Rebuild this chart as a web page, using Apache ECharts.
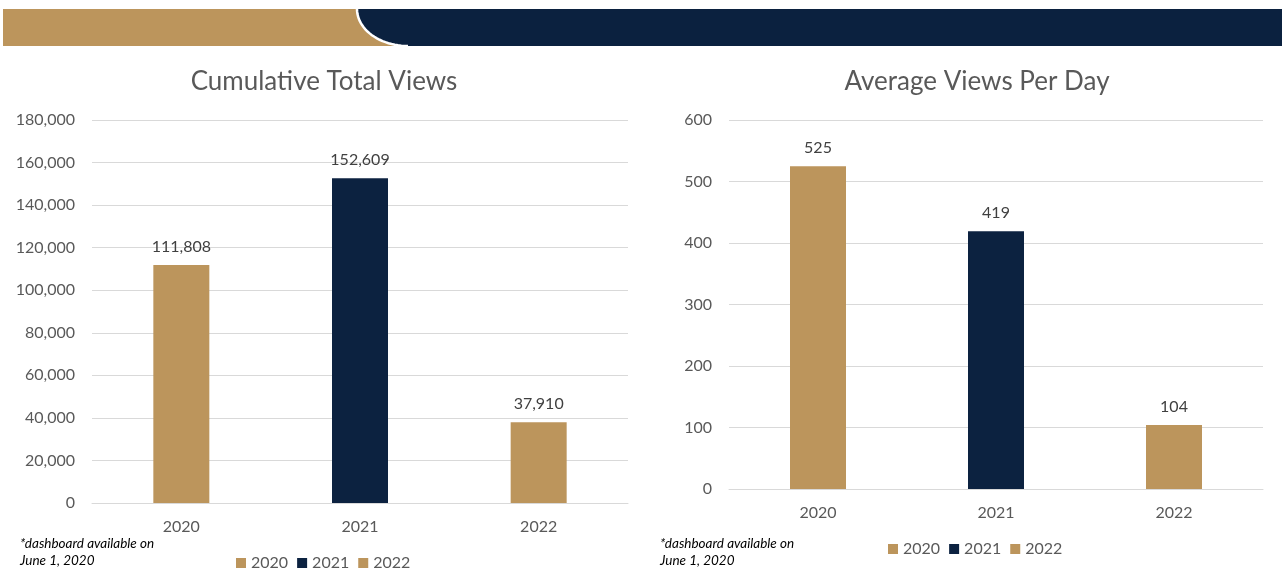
<!DOCTYPE html>
<html>
<head>
<meta charset="utf-8">
<script src="https://cdn.jsdelivr.net/npm/echarts@6/dist/echarts.min.js"></script>
<style>
  html, body { margin: 0; padding: 0; background: #ffffff; }
  #chart { width: 1284px; height: 574px; }
</style>
</head>
<body>
<div id="chart"></div>
<script>
// Years shown on both panels
const years = ['2020', '2021', '2022'];
// Cumulative total views per year
const totalViews = [111808, 152609, 37910];
// Average views per day per year
const avgViewsPerDay = [525, 419, 104];
// Colour per year
const yearColors = ['#BC955C', '#0C2240', '#BC955C'];
// Axis settings
const totalAxis = { min: 0, max: 180000, interval: 20000 };
const avgAxis = { min: 0, max: 600, interval: 100 };

const FONT = 'Lato, "Open Sans", sans-serif';
const GREY = '#595959';

const fmt = v => Number(v).toLocaleString('en-US');

// One series per year so each bar gets its own legend entry
function yearSeries(values, axisIndex, stackName) {
  return years.map((y, i) => ({
    name: y,
    type: 'bar',
    xAxisIndex: axisIndex,
    yAxisIndex: axisIndex,
    stack: stackName,
    barWidth: 56,
    itemStyle: { color: yearColors[i] },
    label: {
      show: true,
      position: 'top',
      distance: 10,
      color: '#404040',
      fontFamily: FONT,
      fontSize: 16,
      formatter: p => fmt(p.value)
    },
    data: years.map((_, j) => (j === i ? values[i] : '-'))
  }));
}

function xAxisCfg(gridIndex) {
  return {
    type: 'category',
    gridIndex,
    data: years,
    axisLine: { lineStyle: { color: '#d9d9d9', width: 1 } },
    axisTick: { show: false },
    axisLabel: { color: GREY, fontFamily: FONT, fontSize: 16, margin: 16 }
  };
}

function yAxisCfg(gridIndex, range) {
  return {
    type: 'value',
    gridIndex,
    min: range.min,
    max: range.max,
    interval: range.interval,
    axisLine: { show: false },
    axisTick: { show: false },
    splitLine: { lineStyle: { color: '#d9d9d9', width: 1 } },
    axisLabel: { color: GREY, fontFamily: FONT, fontSize: 16, margin: 17, formatter: fmt }
  };
}

function legendCfg(left, top) {
  return {
    left, top,
    icon: 'rect',
    itemWidth: 10,
    itemHeight: 10,
    itemGap: 9,
    selectedMode: false,
    textStyle: { color: GREY, fontFamily: FONT, fontSize: 16 },
    data: years.map((y, i) => ({ name: y, itemStyle: { color: yearColors[i] } }))
  };
}

function note(x) {
  return {
    type: 'text',
    left: x,
    top: 535,
    style: {
      text: '*dashboard available on\nJune 1, 2020',
      fill: '#000000',
      font: 'italic 13.5px ' + FONT,
      lineHeight: 17
    }
  };
}

// Quarter-ellipse forming the left edge of the navy header shape
function bannerCurve() {
  const cx = 408, cy = 9, rx = 51, ry = 37;
  const pts = [];
  for (let k = 0; k <= 24; k++) {
    const a = Math.PI - (k / 24) * (Math.PI / 2);
    pts.push([cx + rx * Math.cos(a), cy + ry * Math.sin(a)]);
  }
  return pts;
}

const curve = bannerCurve();

const chart = echarts.init(document.getElementById('chart'), null, { renderer: 'canvas' });

chart.setOption({
  backgroundColor: '#ffffff',
  animation: false,
  grid: [
    { left: 92, right: 656, top: 120, bottom: 71 },
    { left: 729, right: 21, top: 120, bottom: 85 }
  ],
  xAxis: [xAxisCfg(0), xAxisCfg(1)],
  yAxis: [yAxisCfg(0, totalAxis), yAxisCfg(1, avgAxis)],
  legend: [legendCfg(231, 550), legendCfg(883, 536)],
  series: [
    ...yearSeries(totalViews, 0, 'total'),
    ...yearSeries(avgViewsPerDay, 1, 'avg')
  ],
  graphic: [
    // header band: gold on the left, navy with a curved edge on the right
    {
      type: 'rect',
      shape: { x: 3, y: 9, width: 420, height: 37 },
      style: { fill: '#BC955C' },
      z: 1
    },
    {
      type: 'polygon',
      shape: { points: curve.concat([[1282, 46], [1282, 9]]) },
      style: { fill: '#0B213F' },
      z: 2
    },
    {
      type: 'polyline',
      shape: { points: curve },
      style: { stroke: '#ffffff', lineWidth: 2.5, fill: null },
      z: 3
    },
    // panel titles
    {
      type: 'text',
      x: 324, y: 82,
      style: {
        text: 'Cumulative Total Views',
        fill: GREY,
        font: '26px ' + FONT,
        textAlign: 'center',
        textVerticalAlign: 'middle'
      }
    },
    {
      type: 'text',
      x: 977, y: 82,
      style: {
        text: 'Average Views Per Day',
        fill: GREY,
        font: '26px ' + FONT,
        textAlign: 'center',
        textVerticalAlign: 'middle'
      }
    },
    note(20),
    note(660)
  ]
});
</script>
</body>
</html>
